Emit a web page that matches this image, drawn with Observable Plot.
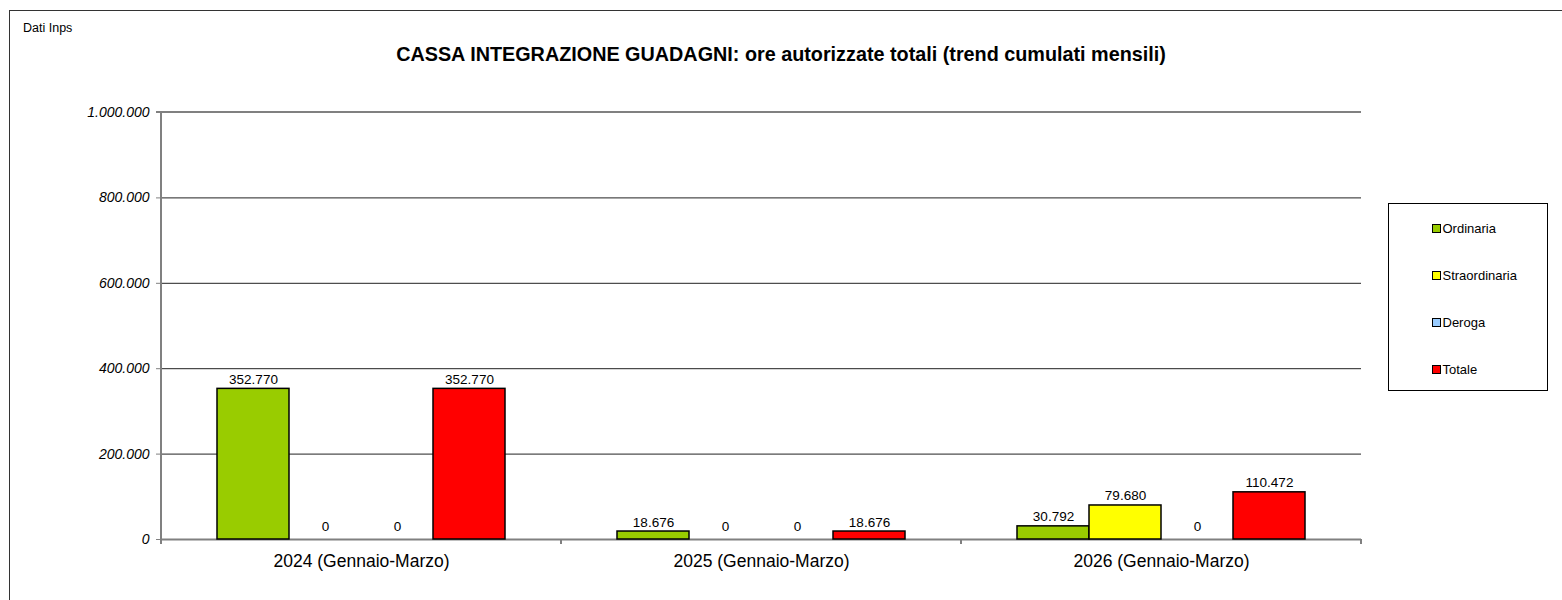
<!DOCTYPE html>
<html>
<head>
<meta charset="utf-8">
<script src="https://cdn.jsdelivr.net/npm/d3@7"></script>
<script src="https://cdn.jsdelivr.net/npm/@observablehq/plot@0.6"></script>
<style>
  html, body { margin: 0; padding: 0; background: #fff; overflow: hidden; }
  #wrap { position: relative; width: 1562px; height: 600px; overflow: hidden; font-family: "Liberation Sans", Arial, sans-serif; }
  #frame { position: absolute; left: 9px; top: 10px; width: 1700px; height: 800px; border-left: 1px solid #333; border-top: 1px solid #333; }
  #source { position: absolute; left: 23px; top: 22px; font-size: 12.5px; line-height: 1; color: #000; }
  #title { position: absolute; left: 0; top: 45px; width: 1562px; text-align: center; font-size: 19.8px; font-weight: bold; line-height: 1; color: #000; }
  #chart { position: absolute; left: 0; top: 0; }
  #legend { position: absolute; left: 1388px; top: 203px; width: 160px; height: 188px; border: 1px solid #000; box-sizing: border-box; background: #fff; }
  .item { position: absolute; left: 43px; height: 20px; display: flex; align-items: center; font-size: 13px; color: #000; }
  .sw { width: 7px; height: 7px; border: 1.5px solid #000; box-sizing: content-box; margin-right: 1.5px; }
</style>
</head>
<body>
<div id="wrap">
  <div id="frame"></div>
  <div id="chart"></div>
  <div id="source">Dati Inps</div>
  <div id="title">CASSA INTEGRAZIONE GUADAGNI: ore autorizzate totali (trend cumulati mensili)</div>
  <div id="legend"></div>
</div>
<script>
// ---- data ----
const groups = ["2024 (Gennaio-Marzo)", "2025 (Gennaio-Marzo)", "2026 (Gennaio-Marzo)"];
const series = ["Ordinaria", "Straordinaria", "Deroga", "Totale"];
const ordinaria = [352770, 18676, 30792];
const straordinaria = [0, 0, 79680];
const deroga = [0, 0, 0];
const totale = [352770, 18676, 110472];
const colors = ["#99CC00", "#FFFF00", "#99CCFF", "#FF0000"];
const yTicks = [0, 200000, 400000, 600000, 800000, 1000000];

const valuesBySeries = [ordinaria, straordinaria, deroga, totale];
const data = [];
groups.forEach((g, gi) => {
  series.forEach((s, si) => {
    data.push({group: g, series: s, value: valuesBySeries[si][gi]});
  });
});

const it = d3.formatLocale({decimal: ",", thousands: ".", grouping: [3], currency: ["€", ""]});
const fmt = it.format(",d");

const W = 1562, H = 600;
const plot = Plot.plot({
  width: W,
  height: H,
  marginTop: 112,
  marginBottom: 61,
  marginLeft: 160,
  marginRight: 200,
  style: {background: "transparent", fontFamily: "'Liberation Sans', Arial, sans-serif", color: "#000"},
  fx: {domain: groups, padding: 0, label: null},
  x: {domain: series, paddingInner: 0, paddingOuter: 0.75, axis: null},
  y: {domain: [0, 1000000], label: null},
  color: {domain: series, range: colors},
  marks: [
    Plot.ruleY(yTicks.filter(v => v > 0), {stroke: "#222", strokeWidth: 1}),
    Plot.ruleY([0], {stroke: "#808080", strokeWidth: 2}),
    Plot.barY(data, {fx: "group", x: "series", y: "value", fill: "series", stroke: "#000", strokeWidth: 1.5}),
    Plot.text(data.filter(d => d.value > 0), {fx: "group", x: "series", y: "value", text: d => fmt(d.value), lineAnchor: "bottom", dy: -5, fontSize: 13.5, fill: "#000"}),
    Plot.text(data.filter(d => d.value === 0), {fx: "group", x: "series", y: "value", text: d => fmt(d.value), lineAnchor: "bottom", dy: -9, fontSize: 13.5, fill: "#000"}),
    Plot.axisY(yTicks, {tickFormat: fmt, fontSize: 14, fontStyle: "italic", tickSize: 5, tickPadding: 7, stroke: "#808080", label: null}),
    Plot.axisFx({anchor: "bottom", tickSize: 0, tickPadding: 15, fontSize: 17.5, label: null})
  ]
});

document.getElementById("chart").appendChild(plot);

// axis lines and group boundary ticks, positioned from Plot's own scales
const fxS = plot.scale("fx");
const yS = plot.scale("y");
const bw = fxS.bandwidth != null ? fxS.bandwidth : (fxS.range[1] - fxS.range[0]) / groups.length;
const y0 = yS.apply(0), yTop = yS.apply(1000000);
const bounds = groups.map(g => fxS.apply(g));
bounds.push(fxS.apply(groups[groups.length - 1]) + bw);
const svg = d3.select(plot);
const g = svg.append("g").attr("stroke", "#808080").attr("stroke-width", 2).attr("fill", "none");
g.append("line").attr("x1", bounds[0]).attr("x2", bounds[0]).attr("y1", yTop).attr("y2", y0 + 5);
bounds.forEach(b => g.append("line").attr("x1", b).attr("x2", b).attr("y1", y0).attr("y2", y0 + 5));
g.append("line").attr("x1", bounds[0] - 5).attr("x2", bounds[bounds.length - 1]).attr("y1", yTop).attr("y2", yTop);

// legend
const leg = document.getElementById("legend");
series.forEach((s, i) => {
  const el = document.createElement("div");
  el.className = "item";
  el.style.top = (14 + i * 47) + "px";
  const sw = document.createElement("span");
  sw.className = "sw";
  sw.style.background = colors[i];
  const t = document.createElement("span");
  t.textContent = s;
  el.appendChild(sw);
  el.appendChild(t);
  leg.appendChild(el);
});
</script>
</body>
</html>
